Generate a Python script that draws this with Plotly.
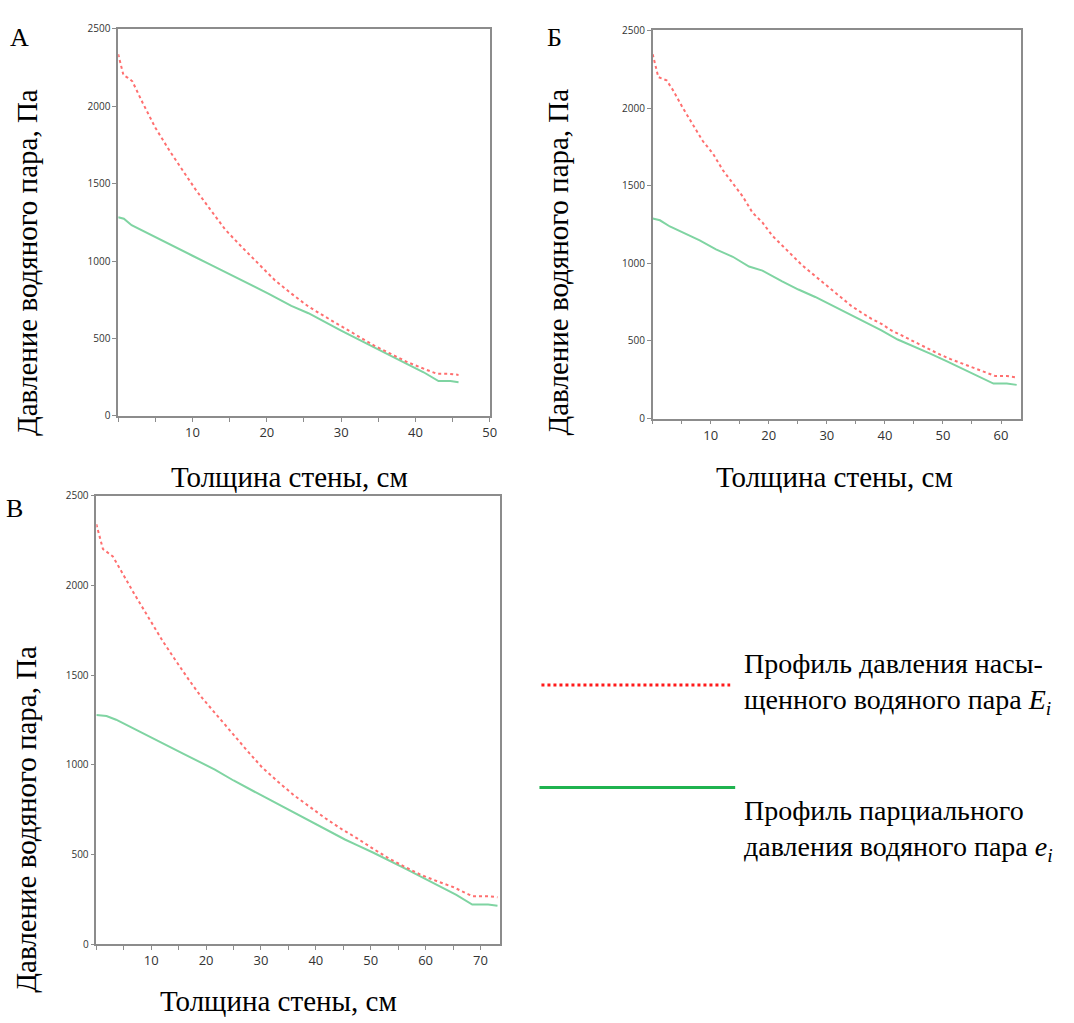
import plotly.graph_objects as go

# ---- Data ----
# Panel A
a_E_x = [0, 0.7, 1.3, 1.9, 3.3, 5.0, 7.0, 9.0, 10.4, 12.2, 14.4, 16.7, 18.9, 21.1, 23.3, 25.6, 27.8, 30.0, 32.2, 34.4, 36.7, 38.9, 41.1, 42.9, 44.5, 45.8]
a_E_y = [2335, 2200, 2183, 2160, 2020, 1860, 1705, 1560, 1462, 1345, 1203, 1087, 981, 875, 790, 706, 642, 578, 515, 455, 400, 348, 305, 272, 272, 265]
a_e_x = [0, 0.76, 1.8, 4.2, 7.8, 10.0, 12.2, 15.8, 16.7, 20.2, 23.3, 25.6, 30.0, 34.4, 36.7, 38.9, 41.1, 43.1, 44.7, 45.8]
a_e_y = [1282, 1273, 1231, 1172, 1083, 1034, 981, 896, 875, 790, 710, 663, 551, 441, 388, 335, 282, 225, 225, 218]

# Panel Б
b_E_x = [0, 0.97, 2.4, 3.5, 5.2, 6.9, 8.6, 10.4, 12.1, 13.8, 15.5, 17.2, 18.9, 20.6, 22.3, 24.0, 25.7, 27.4, 29.1, 30.8, 32.5, 34.2, 35.9, 37.7, 39.4, 41.1, 42.8, 44.5, 46.2, 47.9, 49.6, 51.3, 53.0, 54.7, 56.4, 58.1, 59.0, 61.0, 62.7]
b_E_y = [2346, 2199, 2178, 2115, 2000, 1894, 1789, 1705, 1599, 1515, 1431, 1326, 1263, 1178, 1115, 1052, 989, 936, 884, 831, 779, 726, 684, 642, 610, 568, 537, 505, 473, 442, 410, 383, 358, 332, 309, 284, 274, 274, 265]
b_e_x = [0, 1.25, 2.96, 5.2, 8.1, 10.9, 13.8, 16.6, 18.9, 22.3, 25.1, 28.0, 30.8, 33.7, 36.5, 39.4, 42.2, 45.1, 47.9, 50.7, 53.6, 56.4, 58.7, 61.0, 62.7]
b_e_y = [1288, 1277, 1237, 1199, 1147, 1090, 1042, 979, 953, 884, 831, 783, 730, 673, 621, 568, 509, 463, 417, 368, 316, 263, 225, 225, 217]

# Panel В
c_E_x = [0, 1.2, 3.0, 4.9, 6.7, 8.5, 10.3, 12.1, 13.9, 15.7, 16.9, 19.2, 21.6, 24.4, 27.3, 30.2, 33.1, 36.0, 38.9, 41.8, 44.7, 47.6, 50.5, 53.4, 56.3, 59.2, 62.1, 65.0, 67.9, 68.5, 71.4, 73.1]
c_E_y = [2341, 2203, 2162, 2056, 1964, 1872, 1780, 1689, 1606, 1523, 1472, 1375, 1292, 1189, 1085, 985, 905, 830, 765, 700, 641, 588, 530, 476, 429, 385, 350, 318, 276, 267, 267, 261]
c_e_x = [0, 1.85, 3.6, 7.1, 10.0, 15.8, 21.6, 25.0, 30.2, 36.0, 40.1, 45.3, 47.6, 50.5, 56.3, 62.1, 65.6, 68.5, 71.4, 73.1]
c_e_y = [1277, 1272, 1251, 1198, 1154, 1062, 973, 912, 827, 733, 668, 583, 550, 509, 420, 327, 274, 220, 220, 214]

panel_labels = ["А", "Б", "В"]
y_title = "Давление водяного пара, Па"
x_title = "Толщина стены, см"
y_ticks = [0, 500, 1000, 1500, 2000, 2500]
x_ticks_a = [10, 20, 30, 40, 50]
x_ticks_b = [10, 20, 30, 40, 50, 60]
x_ticks_c = [10, 20, 30, 40, 50, 60, 70]
legend_E = "Профиль давления насы-<br>щенного водяного пара <i>E<sub>i</sub></i>"
legend_e = "Профиль парциального<br>давления водяного пара <i>e<sub>i</sub></i>"

RED = "#ff6f6f"
GREEN = "#7fd4a2"
SERIF = "Liberation Serif, Times New Roman, serif"

fig = go.Figure()

panels = [
    (a_E_x, a_E_y, a_e_x, a_e_y, "x", "y"),
    (b_E_x, b_E_y, b_e_x, b_e_y, "x2", "y2"),
    (c_E_x, c_E_y, c_e_x, c_e_y, "x3", "y3"),
]
for ex, ey, gx, gy, xa, ya in panels:
    fig.add_trace(go.Scatter(x=gx, y=gy, mode="lines", xaxis=xa, yaxis=ya,
                             line=dict(color=GREEN, width=2), showlegend=False))
    fig.add_trace(go.Scatter(x=ex, y=ey, mode="lines", xaxis=xa, yaxis=ya,
                             line=dict(color=RED, width=2, dash="dot"), showlegend=False))

def xaxis(domain, rng, ticks, anchor):
    return dict(domain=domain, range=rng, anchor=anchor, tickvals=ticks,
                showline=True, linecolor="#8c8c8c", linewidth=1.5, mirror=True,
                ticks="outside", ticklen=4, tickcolor="#8c8c8c",
                minor=dict(dtick=5, tick0=0, ticks="outside", ticklen=4, tickcolor="#8c8c8c"),
                showgrid=False, zeroline=False,
                tickfont=dict(family="Open Sans, sans-serif", size=13, color="#333"))

def yaxis(domain, anchor):
    return dict(domain=domain, range=[0, 2500], anchor=anchor, tickvals=y_ticks,
                showline=True, linecolor="#8c8c8c", linewidth=1.5, mirror=True,
                ticks="outside", ticklen=4, tickcolor="#8c8c8c",
                showgrid=False, zeroline=False,
                tickfont=dict(family="Open Sans, sans-serif", size=10, color="#333"))

fig.update_layout(
    width=1074, height=1023,
    margin=dict(l=0, r=0, t=0, b=0),
    paper_bgcolor="white", plot_bgcolor="white",
    xaxis=xaxis([0.1108, 0.459], [0, 50], x_ticks_a, "y"),
    yaxis=yaxis([0.5953, 0.9795], "x"),
    xaxis2=xaxis([0.6117, 0.9572], [0, 63.5], x_ticks_b, "y2"),
    yaxis2=yaxis([0.5927, 0.9778], "x2"),
    xaxis3=xaxis([0.0903, 0.4683], [0, 73.5], x_ticks_c, "y3"),
    yaxis3=yaxis([0.0714, 0.5161], "x3"),
)

ann = []
# panel letters
for txt, (px, py) in zip(panel_labels, [(20, 30), (558, 30), (15, 508)]):
    ann.append(dict(text=txt, x=px / 1074, y=1 - py / 1023, xref="paper", yref="paper",
                    showarrow=False, font=dict(family=SERIF, size=26, color="black"),
                    xanchor="center", yanchor="middle"))
# y titles
for px, py in [(27, 258), (562, 258), (26, 823)]:
    ann.append(dict(text=y_title, x=px / 1074, y=1 - py / 1023, xref="paper", yref="paper",
                    showarrow=False, textangle=-90,
                    font=dict(family=SERIF, size=29, color="black"),
                    xanchor="center", yanchor="middle"))
# x titles
for px, py in [(291, 476), (840, 476), (280, 1008)]:
    ann.append(dict(text=x_title, x=px / 1074, y=1 - py / 1023, xref="paper", yref="paper",
                    showarrow=False, font=dict(family=SERIF, size=29, color="black"),
                    xanchor="center", yanchor="middle"))
# legend texts
ann.append(dict(text=legend_E, x=747 / 1074, y=1 - 686 / 1023, xref="paper", yref="paper",
                showarrow=False, align="left", xanchor="left", yanchor="middle",
                font=dict(family=SERIF, size=28, color="black")))
ann.append(dict(text=legend_e, x=747 / 1074, y=1 - 835 / 1023, xref="paper", yref="paper",
                showarrow=False, align="left", xanchor="left", yanchor="middle",
                font=dict(family=SERIF, size=28, color="black")))
fig.update_layout(annotations=ann)

# legend sample lines
fig.add_shape(type="line", xref="paper", yref="paper",
              x0=545 / 1074, x1=735 / 1074, y0=1 - 687 / 1023, y1=1 - 687 / 1023,
              line=dict(color="#ff1a1a", width=3, dash="dot"))
fig.add_shape(type="line", xref="paper", yref="paper",
              x0=543 / 1074, x1=740 / 1074, y0=1 - 791 / 1023, y1=1 - 791 / 1023,
              line=dict(color="#1fb34f", width=3))

fig.write_html("out.html")
